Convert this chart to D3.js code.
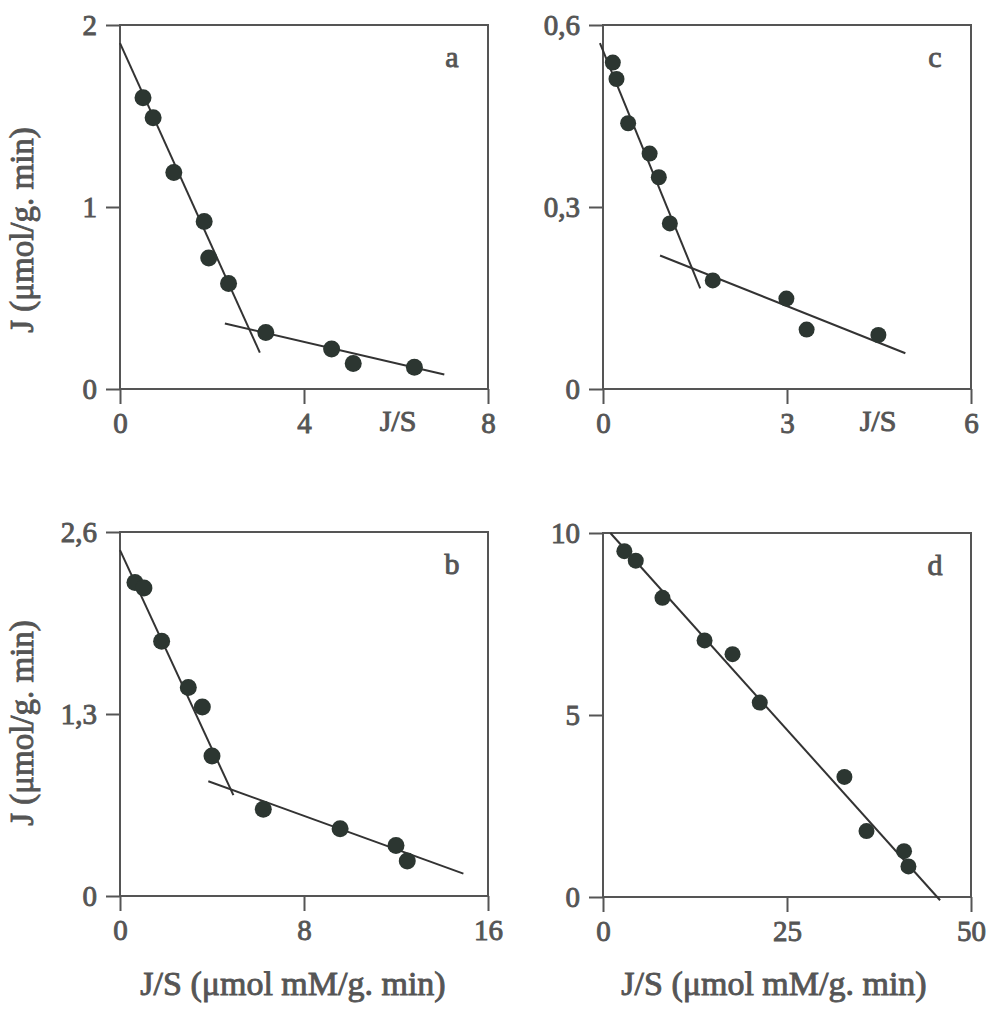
<!DOCTYPE html>
<html>
<head>
<meta charset="utf-8">
<script src="https://cdn.jsdelivr.net/npm/d3@7"></script>
<style>
  body { margin: 0; background: #fff; }
  svg text { font-family: "Liberation Serif", serif; font-weight: normal; fill: #555; stroke: #555; stroke-width: 0.9px; }
  .domain { display: none; }
  .tick line { stroke: #555; stroke-width: 2; }
</style>
</head>
<body>
<svg id="chart" width="989" height="1009"></svg>
<script>
// ---- panel a ----
const aJS = [0.5, 0.72, 1.17, 1.83, 1.93, 2.36, 3.17, 4.6, 5.07, 6.4];
const aJ  = [1.60, 1.49, 1.19, 0.92, 0.72, 0.58, 0.31, 0.22, 0.14, 0.12];
const aFit = [[[0, 1.90], [3.04, 0.20]], [[2.28, 0.36], [7.05, 0.08]]];
const aXTicks = [0, 4, 8];
const aYTicks = [0, 1, 2];

// ---- panel b ----
const bJS = [0.65, 1.04, 1.81, 2.97, 3.58, 4.0, 6.23, 9.57, 12.0, 12.49];
const bJ  = [2.24, 2.20, 1.82, 1.49, 1.35, 1.00, 0.62, 0.48, 0.36, 0.25];
const bFit = [[[0, 2.47], [4.93, 0.72]], [[3.84, 0.82], [14.93, 0.16]]];
const bXTicks = [0, 8, 16];
const bYTicks = [0, 1.3, 2.6];

// ---- panel c ----
const cJS = [0.16, 0.22, 0.41, 0.76, 0.91, 1.09, 1.79, 2.99, 3.32, 4.49];
const cJ  = [0.538, 0.511, 0.438, 0.388, 0.349, 0.273, 0.179, 0.149, 0.098, 0.089];
const cFit = [[[-0.05, 0.57], [1.585, 0.166]], [[0.93, 0.220], [4.93, 0.059]]];
const cXTicks = [0, 3, 6];
const cYTicks = [0, 0.3, 0.6];

// ---- panel d ----
const dJS = [2.9, 4.45, 8.08, 13.8, 17.6, 21.3, 32.8, 35.8, 40.9, 41.5];
const dJ  = [9.50, 9.24, 8.22, 7.05, 6.67, 5.34, 3.30, 1.81, 1.26, 0.84];
const dFit = [[[1.0, 10.0], [45.8, -0.09]]];
const dXTicks = [0, 25, 50];
const dYTicks = [0, 5, 10];

const yTitle = "J (\u03bcmol/g. min)";
const xTitle = "J/S (\u03bcmol mM/g. min)";

const W = 368, H = 364;
const svg = d3.select("#chart");

// comma decimal like the original figure
const fmt = v => String(v).replace(".", ",");

function drawPanel(p) {
  const g = svg.append("g").attr("transform", `translate(${p.left},${p.top})`);

  const x = d3.scaleLinear().domain([0, p.xTicks[2]]).range([0, W]);
  const y = d3.scaleLinear().domain([0, p.yTicks[2]]).range([H, 0]);

  // frame
  g.append("rect")
    .attr("width", W).attr("height", H)
    .attr("fill", "none").attr("stroke", "#555").attr("stroke-width", 2);

  g.append("g")
    .attr("transform", `translate(0,${H})`)
    .call(d3.axisBottom(x).tickValues(p.xTicks).tickFormat(fmt).tickSize(15).tickPadding(8))
    .selectAll("text").style("font-size", "29px");

  g.append("g")
    .call(d3.axisLeft(y).tickValues(p.yTicks).tickFormat(fmt).tickSize(14).tickPadding(9))
    .selectAll("text").style("font-size", "29px");

  // fitted lines
  const line = d3.line().x(d => x(d[0])).y(d => y(d[1]));
  g.selectAll(".fit")
    .data(p.fit)
    .enter().append("path")
    .attr("class", "fit")
    .attr("d", line)
    .attr("fill", "none")
    .attr("stroke", "#333")
    .attr("stroke-width", 2);

  // points
  g.selectAll(".pt")
    .data(p.xs.map((v, i) => [v, p.ys[i]]))
    .enter().append("circle")
    .attr("class", "pt")
    .attr("cx", d => x(d[0]))
    .attr("cy", d => y(d[1]))
    .attr("r", p.r)
    .attr("fill", "#2c3631");

  g.append("text")
    .attr("x", W - 36).attr("y", 42)
    .attr("text-anchor", "middle")
    .style("font-size", "30px")
    .text(p.letter);

  if (p.jsLabel) {
    g.append("text")
      .attr("x", p.jsLabel).attr("y", H + 42)
      .attr("text-anchor", "middle")
      .style("font-size", "30px")
      .text("J/S");
  }
  if (p.yTitle) {
    g.append("text")
      .attr("transform", `translate(${-p.left + 33},${p.yTitleY}) rotate(-90)`)
      .attr("text-anchor", "middle")
      .style("font-size", "33px")
      .text(yTitle);
  }
  if (p.xTitle) {
    g.append("text")
      .attr("x", p.xTitleX).attr("y", 995 - p.top)
      .attr("text-anchor", "middle")
      .style("font-size", "34px")
      .text(xTitle);
  }
}

drawPanel({left: 120, top: 25, xs: aJS, ys: aJ, fit: aFit, xTicks: aXTicks, yTicks: aYTicks,
  letter: "a", r: 8.5, jsLabel: 278, yTitle: true, yTitleY: 205});
drawPanel({left: 603, top: 25, xs: cJS, ys: cJ, fit: cFit, xTicks: cXTicks, yTicks: cYTicks,
  letter: "c", r: 8, jsLabel: 275});
drawPanel({left: 120, top: 532, xs: bJS, ys: bJ, fit: bFit, xTicks: bXTicks, yTicks: bYTicks,
  letter: "b", r: 8.5, yTitle: true, yTitleY: 191, xTitle: true, xTitleX: 173});
drawPanel({left: 603, top: 533, xs: dJS, ys: dJ, fit: dFit, xTicks: dXTicks, yTicks: dYTicks,
  letter: "d", r: 8, xTitle: true, xTitleX: 171});
</script>
</body>
</html>
